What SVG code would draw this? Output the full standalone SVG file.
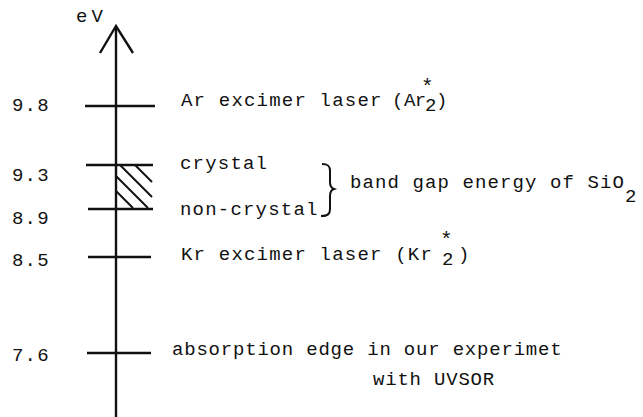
<svg xmlns="http://www.w3.org/2000/svg" width="643" height="417" viewBox="0 0 643 417">
<style>
.t{font-family:"Liberation Mono","DejaVu Sans Mono",monospace;font-size:19px;letter-spacing:1.2px;fill:#111}
.n{letter-spacing:0.8px}
.s{font-size:21px}
.ln{stroke:#111;stroke-width:2.4;fill:none;stroke-linecap:butt}
.h{stroke:#111;stroke-width:2;fill:none}
</style>
<rect width="643" height="417" fill="#fff"/>
<g id="connectors">
<line class="ln" x1="116" y1="27" x2="116" y2="417" stroke-width="2.6"/>
<polyline class="ln" points="100,53 116,26 133,53" stroke-width="2.6" stroke-linejoin="miter"/>
</g>
<g id="axis-label"><text class="t" x="76" y="22" font-size="16" style="letter-spacing:4px">eV</text></g>
<g id="level-9.8">
<line class="ln" x1="85" y1="106" x2="155" y2="106"/>
<text class="t" x="12" y="111">9.8</text>
<text class="t" x="181" y="106">Ar excimer laser<tspan x="392">(</tspan><tspan x="404" style="letter-spacing:-0.6px">Ar</tspan><tspan class="s" x="421" y="93">*</tspan><tspan x="425" y="111">2</tspan><tspan x="436" y="106">)</tspan></text>
</g>
<g id="level-9.3">
<line class="ln" x1="86" y1="165" x2="153" y2="165"/>
<text class="t" x="12" y="181">9.3</text>
<text class="t" x="180" y="169">crystal</text>
</g>
<g id="hatch">
<line class="h" x1="135" y1="165" x2="152" y2="182"/>
<line class="h" x1="120" y1="165" x2="152" y2="197"/>
<line class="h" x1="116" y1="176" x2="148" y2="208"/>
<line class="h" x1="116" y1="191" x2="133" y2="208"/>
</g>
<g id="level-8.9">
<line class="ln" x1="88" y1="209" x2="153" y2="209"/>
<text class="t" x="12" y="224">8.9</text>
<text class="t" x="180" y="215">non-crystal</text>
</g>
<g id="brace">
<path class="h" stroke-width="1.5" d="M322,164 C328,164 330,166 330,171 L330,182 C330,186 331,188 334,189 C331,190 330,192 330,196 L330,209 C330,214 328,216 321,216"/>
<text class="t" x="350" y="188" style="letter-spacing:1.1px">band gap energy of SiO<tspan dy="14">2</tspan></text>
</g>
<g id="level-8.5">
<line class="ln" x1="88" y1="257" x2="151" y2="257"/>
<text class="t" x="12" y="266">8.5</text>
<text class="t" x="181" y="260">Kr excimer laser  (Kr<tspan class="s" x="440" y="246">*</tspan><tspan x="442" y="265">2</tspan><tspan x="458" y="260">)</tspan></text>
</g>
<g id="level-7.6">
<line class="ln" x1="87" y1="353" x2="151" y2="353"/>
<text class="t" x="12" y="361">7.6</text>
<text class="t n" x="172" y="355">absorption edge in our experimet</text>
<text class="t n" x="373" y="385">with UVSOR</text>
</g>
</svg>
